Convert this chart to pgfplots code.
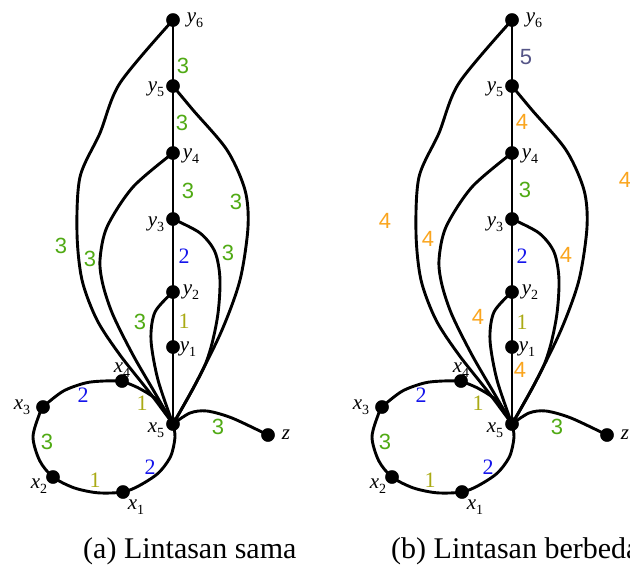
\documentclass[border=0pt]{standalone}
\usepackage{pgfplots}
\pgfplotsset{compat=1.18}
\usepackage{fontspec}
\setmainfont{Liberation Serif}
\setsansfont{Liberation Sans}
\definecolor{cgreen}{RGB}{80,170,20}
\definecolor{cblue}{RGB}{20,20,235}
\definecolor{colive}{RGB}{170,170,20}
\definecolor{corange}{RGB}{250,165,30}
\definecolor{cslate}{RGB}{85,85,135}
\newcommand{\vl}[2]{{\fontsize{21}{21}\selectfont\textit{#1}\raisebox{-5pt}{\fontsize{14}{14}\selectfont #2}}}
\newcommand{\ws}[2]{{\color{#1}\fontsize{22}{22}\selectfont\sffamily #2}}
\newcommand{\wser}[2]{{\color{#1}\fontsize{22}{22}\selectfont #2}}
\pgfplotsset{edge/.style={black, line width=2.9pt, no markers},
  curve/.style={edge, smooth},
  vert/.style={only marks, mark=*, mark size=6.6pt, black, mark options={line width=0.4pt}}}
\begin{document}
\begin{tikzpicture}
\useasboundingbox (0,0) rectangle (630pt,566pt);
\clip (0,0) rectangle (630pt,566pt);
\begin{axis}[
  at={(0,0)}, anchor=south west,
  scale only axis, width=630pt, height=566pt,
  xmin=0, xmax=630, ymin=0, ymax=566, y dir=reverse,
  hide axis, clip=false,
]
% ---------------- (a) ----------------
\addplot[edge] coordinates {(173,20) (173,424)};
\addplot[curve] coordinates {(173,20) (120,83) (100,133) (80,177) (77,233) (82,280) (97,320) (120,355) (150,393) (173,424)};
\addplot[curve] coordinates {(173,153) (133,187) (107,227) (100,260) (103,285) (113,315) (133,355) (155,393) (173,424)};
\addplot[curve] coordinates {(173,292) (155,312) (151,340) (158,380) (173,424)};
\addplot[curve] coordinates {(122,381) (139.5,388.5) (158,401) (173,424)};
\addplot[curve] coordinates {(173,219) (200,233) (215,252) (220,280) (217,320) (205,365) (173,424)};
\addplot[curve] coordinates {(173,86) (193,110) (227,150) (245,190) (248,227) (240,280) (222,330) (195,385) (173,424)};
\addplot[curve] coordinates {(173,424) (190,413) (207,411) (232,418) (268,435)};
\addplot[curve] coordinates {(173,424) (175,437) (170.7,456.2) (158.4,473) (139.5,485.5) (123,492) (97.8,492.8) (74,487.8) (53,477) (39.7,460.7) (33,437) (39.7,413.3) (43,407) (63.3,391.1) (85.6,382.9) (104,381) (122,381)};
\addplot[vert] coordinates {(173,20) (173,86) (173,153) (173,219) (173,292) (173,347) (173,424) (268,435) (122,381) (43,407) (53,477) (123,492)};
% ---------------- (b) ----------------
\addplot[edge] coordinates {(512,20) (512,424)};
\addplot[curve] coordinates {(512,20) (459,83) (439,133) (419,177) (416,233) (421,280) (436,320) (459,355) (489,393) (512,424)};
\addplot[curve] coordinates {(512,153) (472,187) (446,227) (439,260) (442,285) (452,315) (472,355) (494,393) (512,424)};
\addplot[curve] coordinates {(512,292) (494,312) (490,340) (497,380) (512,424)};
\addplot[curve] coordinates {(461,381) (478.5,388.5) (497,401) (512,424)};
\addplot[curve] coordinates {(512,219) (539,233) (554,252) (559,280) (556,320) (544,365) (512,424)};
\addplot[curve] coordinates {(512,86) (532,110) (566,150) (584,190) (587,227) (579,280) (561,330) (534,385) (512,424)};
\addplot[curve] coordinates {(512,424) (529,413) (546,411) (571,418) (607,435)};
\addplot[curve] coordinates {(512,424) (514,437) (509.7,456.2) (497.4,473) (478.5,485.5) (462,492) (436.8,492.8) (413,487.8) (392,477) (378.7,460.7) (372,437) (378.7,413.3) (382,407) (402.3,391.1) (424.6,382.9) (443,381) (461,381)};
\addplot[vert] coordinates {(512,20) (512,86) (512,153) (512,219) (512,292) (512,347) (512,424) (607,435) (461,381) (382,407) (392,477) (462,492)};

% vertex labels (a)
\node[inner sep=0] at (axis cs:195,20) {\vl{y}{6}};
\node[inner sep=0] at (axis cs:156,89) {\vl{y}{5}};
\node[inner sep=0] at (axis cs:191,156) {\vl{y}{4}};
\node[inner sep=0] at (axis cs:156,224) {\vl{y}{3}};
\node[inner sep=0] at (axis cs:191,292) {\vl{y}{2}};
\node[inner sep=0] at (axis cs:188,349) {\vl{y}{1}};
\node[inner sep=0] at (axis cs:122,370) {\vl{x}{4}};
\node[inner sep=0] at (axis cs:22,407) {\vl{x}{3}};
\node[inner sep=0] at (axis cs:156,430) {\vl{x}{5}};
\node[inner sep=0] at (axis cs:286,435) {\fontsize{21}{21}\selectfont\textit{z}};
\node[inner sep=0] at (axis cs:39,486) {\vl{x}{2}};
\node[inner sep=0] at (axis cs:136,507) {\vl{x}{1}};
% vertex labels (b)
\node[inner sep=0] at (axis cs:534,20) {\vl{y}{6}};
\node[inner sep=0] at (axis cs:495,89) {\vl{y}{5}};
\node[inner sep=0] at (axis cs:530,156) {\vl{y}{4}};
\node[inner sep=0] at (axis cs:495,224) {\vl{y}{3}};
\node[inner sep=0] at (axis cs:530,292) {\vl{y}{2}};
\node[inner sep=0] at (axis cs:527,349) {\vl{y}{1}};
\node[inner sep=0] at (axis cs:461,370) {\vl{x}{4}};
\node[inner sep=0] at (axis cs:361,407) {\vl{x}{3}};
\node[inner sep=0] at (axis cs:495,430) {\vl{x}{5}};
\node[inner sep=0] at (axis cs:625,435) {\fontsize{21}{21}\selectfont\textit{z}};
\node[inner sep=0] at (axis cs:378,486) {\vl{x}{2}};
\node[inner sep=0] at (axis cs:475,507) {\vl{x}{1}};

% edge weights (a)
\node at (axis cs:183,66) {\ws{cgreen}{3}};
\node at (axis cs:182,123) {\ws{cgreen}{3}};
\node at (axis cs:188,191) {\ws{cgreen}{3}};
\node at (axis cs:236,202) {\ws{cgreen}{3}};
\node at (axis cs:184,256) {\wser{cblue}{2}};
\node at (axis cs:228,253) {\ws{cgreen}{3}};
\node at (axis cs:61,246) {\ws{cgreen}{3}};
\node at (axis cs:90,259) {\ws{cgreen}{3}};
\node at (axis cs:140,322) {\ws{cgreen}{3}};
\node at (axis cs:184,321) {\wser{colive}{1}};
\node at (axis cs:142,403) {\wser{colive}{1}};
\node at (axis cs:83,395) {\wser{cblue}{2}};
\node at (axis cs:47,442) {\ws{cgreen}{3}};
\node at (axis cs:95,480) {\wser{colive}{1}};
\node at (axis cs:150,467) {\wser{cblue}{2}};
\node at (axis cs:218,427) {\ws{cgreen}{3}};
% edge weights (b)
\node at (axis cs:526,57) {\ws{cslate}{5}};
\node at (axis cs:522,122) {\ws{corange}{4}};
\node at (axis cs:525,190) {\ws{cgreen}{3}};
\node at (axis cs:625,180) {\ws{corange}{4}};
\node at (axis cs:385,221) {\ws{corange}{4}};
\node at (axis cs:428,239) {\ws{corange}{4}};
\node at (axis cs:522,256) {\wser{cblue}{2}};
\node at (axis cs:566,255) {\ws{corange}{4}};
\node at (axis cs:478,317) {\ws{corange}{4}};
\node at (axis cs:522,322) {\wser{colive}{1}};
\node at (axis cs:520,370) {\ws{corange}{4}};
\node at (axis cs:478,403) {\wser{colive}{1}};
\node at (axis cs:421,395) {\wser{cblue}{2}};
\node at (axis cs:385,442) {\ws{cgreen}{3}};
\node at (axis cs:430,480) {\wser{colive}{1}};
\node at (axis cs:488,467) {\wser{cblue}{2}};
\node at (axis cs:557,427) {\ws{cgreen}{3}};

% captions
\node[anchor=base west, inner sep=0] at (axis cs:83,558) {\fontsize{30}{30}\selectfont (a) Lintasan sama};
\node[anchor=base west, inner sep=0] at (axis cs:391,558) {\fontsize{30}{30}\selectfont (b) Lintasan berbeda};
\end{axis}
\end{tikzpicture}
\end{document}
